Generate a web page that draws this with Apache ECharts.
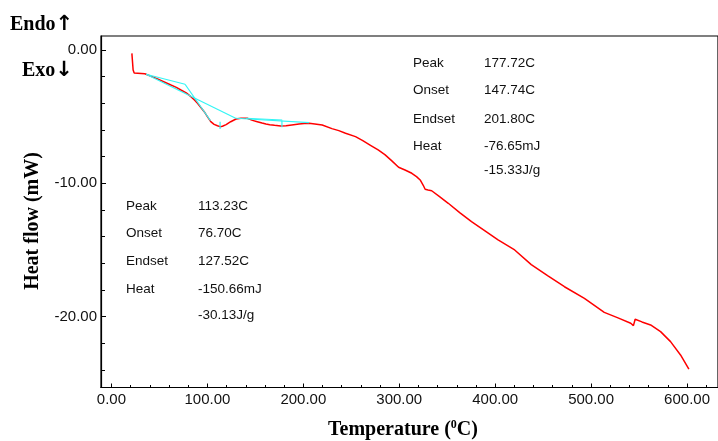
<!DOCTYPE html>
<html><head><meta charset="utf-8">
<script src="https://cdn.jsdelivr.net/npm/echarts@6/dist/echarts.min.js"></script>
<style>html,body{margin:0;padding:0;background:#fff}#c{width:718px;height:441px}</style>
</head><body><div id="c"></div>
<script>
// DSC curve (Temperature in °C, heat flow in mW)
const temps = [21.3, 22.6, 23.7, 34.8, 48, 55, 62, 67.6, 72.4, 78, 82.8, 86.5, 89.7, 93, 96.7, 100, 103.5, 107, 110.5, 113.2, 115.7, 119.5, 124.3, 129.9, 135, 141.6, 147, 152, 157, 161, 165, 170, 176.5, 182, 188, 195.5, 201, 206, 212, 219.7, 229.8, 237, 244, 254.4, 262, 270, 278, 285, 292, 299.3, 306, 313.1, 318, 321.8, 325, 327, 330, 333.8, 342, 351.1, 363, 375.3, 389, 403, 420.3, 437.6, 455, 472.2, 493, 513.7, 528, 541.3, 544.1, 545.9, 553, 562, 572.4, 582.8, 593.2, 601.9];
const heatFlow = [-0.25, -1.5, -1.72, -1.78, -2.17, -2.4, -2.63, -2.8, -3.0, -3.22, -3.5, -3.75, -4.0, -4.3, -4.63, -5.0, -5.38, -5.58, -5.68, -5.75, -5.72, -5.6, -5.38, -5.18, -5.12, -5.12, -5.28, -5.38, -5.48, -5.55, -5.6, -5.65, -5.7, -5.68, -5.62, -5.55, -5.52, -5.5, -5.55, -5.63, -5.9, -6.05, -6.25, -6.5, -6.8, -7.15, -7.5, -7.85, -8.3, -8.8, -9.0, -9.25, -9.5, -9.75, -10.15, -10.45, -10.5, -10.56, -11.0, -11.5, -12.2, -12.88, -13.55, -14.25, -15.0, -16.1, -16.95, -17.76, -18.63, -19.68, -20.1, -20.5, -20.68, -20.2, -20.4, -20.63, -21.13, -21.88, -22.88, -23.95];

// analysis construction lines (cyan): [temperature, heat flow] end points
const baseline1 = [[36.1, -1.82], [129.5, -5.12]];
const preBaseline1 = [[36.1, -1.82], [76.7, -2.57]];
const onsetTangent1 = [[76.7, -2.57], [103.2, -5.3]];
const peakMarker1 = [[113.23, -5.38], [113.23, -5.93]];
const baseline2 = [[129.9, -5.12], [206, -5.45]];
const preBaseline2 = [[140.3, -5.12], [178, -5.25]];
const peakMarker2 = [[177.72, -5.3], [177.72, -5.8]];

// axes
const xTickLabels = [0, 100, 200, 300, 400, 500, 600];
const xMinorTicks = [0, 20, 40, 60, 80, 100, 120, 140, 160, 180, 200, 220, 240, 260, 280, 300, 320, 340, 360, 380, 400, 420, 440, 460, 480, 500, 520, 540, 560, 580, 600, 620];
const yTickLabels = [0, -10, -20];
const yMinorTicks = [0, -2, -4, -6, -8, -10, -12, -14, -16, -18, -20, -22, -24];

// annotation texts
const peak1Names = ['Peak', 'Onset', 'Endset', 'Heat', ''];
const peak1Values = ['113.23C', '76.70C', '127.52C', '-150.66mJ', '-30.13J/g'];
const peak2Names = ['Peak', 'Onset', 'Endset', 'Heat', ''];
const peak2Values = ['177.72C', '147.74C', '201.80C', '-76.65mJ', '-15.33J/g'];

const X_MIN = -10.89, X_MAX = 632.26, Y_MIN = -25.32, Y_MAX = 1.05;
const gridBox = {left: 101, top: 36, width: 620, height: 351.5};
const tickFont = {fontFamily: 'Liberation Sans, Arial, sans-serif', fontSize: 15, color: '#111'};

const chart = echarts.init(document.getElementById('c'), null, {renderer: 'canvas'});

function cyan(data) {
  return {type: 'line', xAxisIndex: 0, yAxisIndex: 0, data: data, symbol: 'none', silent: true,
    lineStyle: {color: '#33f5f5', width: 1.2}, z: 3};
}

const graphics = [];
function addBlock(names, values, xName, xVal, ys) {
  names.forEach((n, i) => {
    if (n) graphics.push({type: 'text', x: xName, y: ys[i], style: {text: n, fill: '#111', font: '13.5px "Liberation Sans", Arial, sans-serif', textVerticalAlign: 'middle'}});
    graphics.push({type: 'text', x: xVal, y: ys[i], style: {text: values[i], fill: '#111', font: '13.5px "Liberation Sans", Arial, sans-serif', textVerticalAlign: 'middle'}});
  });
}
addBlock(peak2Names, peak2Values, 413, 484, [63.3, 90.7, 119.3, 146.7, 170.7]);
addBlock(peak1Names, peak1Values, 126, 198, [206, 233.3, 261.7, 289.3, 315]);

const serif = '"Liberation Serif", "Times New Roman", serif';
const arrowRich = {
  a: {fontFamily: serif, fontWeight: 'bold', fontSize: 20, fill: '#000', lineHeight: 24},
  r: {fontFamily: '"DejaVu Sans", sans-serif', fontWeight: 'bold', fontSize: 21, fill: '#000', lineHeight: 24}
};
graphics.push({type: 'text', x: 10, y: 25, style: {text: '{a|Endo}{r|↑}', rich: arrowRich, textVerticalAlign: 'middle'}});
graphics.push({type: 'text', x: 22, y: 71, style: {text: '{a|Exo}{r|↓}', rich: arrowRich, textVerticalAlign: 'middle'}});
graphics.push({type: 'text', x: 33, y: 221, rotation: Math.PI / 2, style: {text: 'Heat flow (mW)', fill: '#000', font: 'bold 20px ' + serif, textAlign: 'center', textVerticalAlign: 'middle'}});
graphics.push({type: 'text', x: 403, y: 430, style: {
  text: '{a|Temperature (}{s|0}{a|C)}', textAlign: 'center', textVerticalAlign: 'middle',
  rich: {
    a: {fontFamily: serif, fontWeight: 'bold', fontSize: 20, fill: '#000', lineHeight: 22},
    s: {fontFamily: serif, fontWeight: 'bold', fontSize: 12, fill: '#000', verticalAlign: 'top', lineHeight: 14}
  }}});

const option = {
  animation: false,
  backgroundColor: '#fff',
  grid: [
    Object.assign({show: true, borderColor: '#000', borderWidth: 1.2, backgroundColor: 'transparent'}, gridBox),
    Object.assign({show: false}, gridBox)
  ],
  xAxis: [
    {type: 'value', gridIndex: 0, min: X_MIN, max: X_MAX, position: 'bottom',
      axisLine: {show: true, onZero: false, lineStyle: {color: '#000', width: 1.2}},
      axisTick: {show: true, inside: true, length: 4, customValues: xTickLabels, lineStyle: {color: '#000'}},
      axisLabel: Object.assign({show: true, margin: 5, customValues: xTickLabels, formatter: v => Number(v).toFixed(2)}, tickFont),
      splitLine: {show: false}},
    {type: 'value', gridIndex: 1, min: X_MIN, max: X_MAX, position: 'bottom',
      axisLine: {show: false, onZero: false},
      axisTick: {show: true, inside: true, length: 2.5, customValues: xMinorTicks, lineStyle: {color: '#000'}},
      axisLabel: {show: false}, splitLine: {show: false}}
  ],
  yAxis: [
    {type: 'value', gridIndex: 0, min: Y_MIN, max: Y_MAX, position: 'left',
      axisLine: {show: true, onZero: false, lineStyle: {color: '#000', width: 1.2}},
      axisTick: {show: true, inside: true, length: 5, customValues: yTickLabels, lineStyle: {color: '#000'}},
      axisLabel: Object.assign({show: true, margin: 4, customValues: yTickLabels, formatter: v => Number(v).toFixed(2)}, tickFont),
      splitLine: {show: false}},
    {type: 'value', gridIndex: 1, min: Y_MIN, max: Y_MAX, position: 'left',
      axisLine: {show: false, onZero: false},
      axisTick: {show: true, inside: true, length: 4, customValues: yMinorTicks, lineStyle: {color: '#000'}},
      axisLabel: {show: false}, splitLine: {show: false}}
  ],
  series: [
    {type: 'line', xAxisIndex: 0, yAxisIndex: 0, data: temps.map((t, i) => [t, heatFlow[i]]),
      symbol: 'none', silent: true, lineStyle: {color: '#ff0000', width: 1.5}, z: 2},
    cyan(baseline1), cyan(preBaseline1), cyan(onsetTangent1), cyan(peakMarker1),
    cyan(baseline2), cyan(preBaseline2), cyan(peakMarker2)
  ],
  graphic: graphics
};
chart.setOption(option);
</script>
</body></html>
